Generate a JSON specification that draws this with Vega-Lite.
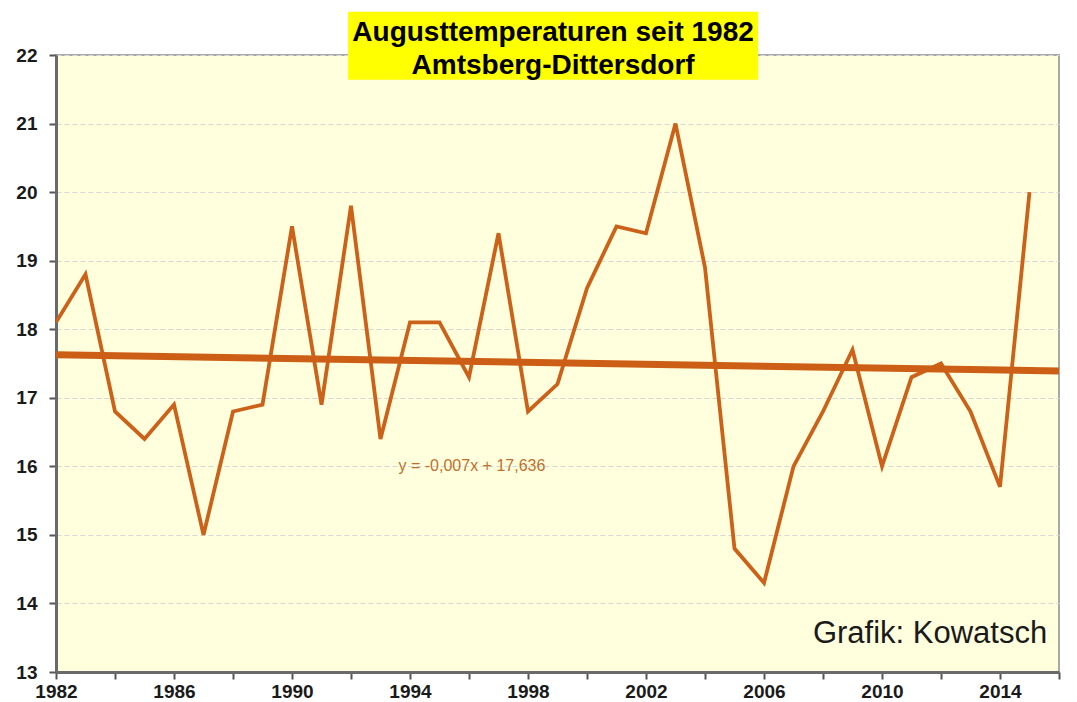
{
  "$schema": "https://vega.github.io/schema/vega-lite/v6.json",
  "width": 1003,
  "height": 617,
  "autosize": {"type": "none"},
  "padding": {"left": 56, "top": 55, "right": 18, "bottom": 30},
  "background": "#ffffff",
  "config": {
    "view": {"fill": "#ffffdd", "stroke": "#a8a8a8", "strokeWidth": 2},
    "font": "Liberation Sans"
  },
  "datasets": {
    "temps": [
      {"year": 1982, "temp": 18.1}, {"year": 1983, "temp": 18.8}, {"year": 1984, "temp": 16.8},
      {"year": 1985, "temp": 16.4}, {"year": 1986, "temp": 16.9}, {"year": 1987, "temp": 15.0},
      {"year": 1988, "temp": 16.8}, {"year": 1989, "temp": 16.9}, {"year": 1990, "temp": 19.5},
      {"year": 1991, "temp": 16.9}, {"year": 1992, "temp": 19.8}, {"year": 1993, "temp": 16.4},
      {"year": 1994, "temp": 18.1}, {"year": 1995, "temp": 18.1}, {"year": 1996, "temp": 17.3},
      {"year": 1997, "temp": 19.4}, {"year": 1998, "temp": 16.8}, {"year": 1999, "temp": 17.2},
      {"year": 2000, "temp": 18.6}, {"year": 2001, "temp": 19.5}, {"year": 2002, "temp": 19.4},
      {"year": 2003, "temp": 21.0}, {"year": 2004, "temp": 18.9}, {"year": 2005, "temp": 14.8},
      {"year": 2006, "temp": 14.3}, {"year": 2007, "temp": 16.0}, {"year": 2008, "temp": 16.8},
      {"year": 2009, "temp": 17.7}, {"year": 2010, "temp": 16.0}, {"year": 2011, "temp": 17.3},
      {"year": 2012, "temp": 17.5}, {"year": 2013, "temp": 16.8}, {"year": 2014, "temp": 15.7},
      {"year": 2015, "temp": 20.0}
    ],
    "trend": [
      {"year": 1982, "temp": 17.629},
      {"year": 2016, "temp": 17.391}
    ],
    "titlebox": [
      {"x1": 1991.9, "x2": 2005.8, "y1": 21.64, "y2": 22.63}
    ],
    "titletext": [
      {"year": 1998.85, "temp": 22.32, "label": "Augusttemperaturen seit 1982"},
      {"year": 1998.85, "temp": 21.84, "label": "Amtsberg-Dittersdorf"}
    ],
    "notes": [
      {"year": 1996.1, "temp": 16.0, "label": "y = -0,007x + 17,636"}
    ],
    "credit": [
      {"year": 2015.6, "temp": 13.43, "label": "Grafik: Kowatsch"}
    ]
  },
  "layer": [
    {
      "data": {"name": "temps"},
      "mark": {"type": "line", "color": "#cc6119", "strokeWidth": 3.8, "clip": true},
      "encoding": {
        "x": {
          "field": "year", "type": "quantitative",
          "scale": {"domain": [1982, 2016], "nice": false, "zero": false},
          "axis": {
            "title": null,
            "values": [1982, 1984, 1986, 1988, 1990, 1992, 1994, 1996, 1998, 2000, 2002, 2004, 2006, 2008, 2010, 2012, 2014, 2016],
            "labelExpr": "datum.value % 4 == 2 ? format(datum.value, 'd') : ''",
            "grid": false,
            "domainColor": "#6a6a6a", "domainWidth": 3,
            "tickColor": "#555555", "tickWidth": 2, "tickSize": 7,
            "labelFont": "Liberation Sans", "labelFontSize": 19, "labelFontWeight": "bold",
            "labelColor": "#1a1a1a", "labelPadding": 3, "labelFlush": false
          }
        },
        "y": {
          "field": "temp", "type": "quantitative",
          "scale": {"domain": [13, 22], "nice": false, "zero": false},
          "axis": {
            "title": null,
            "values": [13, 14, 15, 16, 17, 18, 19, 20, 21, 22],
            "format": "d",
            "grid": true, "gridColor": "#d6d6d6", "gridDash": [5, 3], "gridWidth": 1.2,
            "domainColor": "#6a6a6a", "domainWidth": 3,
            "tickColor": "#555555", "tickWidth": 2, "tickSize": 7,
            "labelFont": "Liberation Sans", "labelFontSize": 19, "labelFontWeight": "bold",
            "labelColor": "#1a1a1a", "labelPadding": 12
          }
        }
      }
    },
    {
      "data": {"name": "trend"},
      "mark": {"type": "line", "color": "#cc5f15", "strokeWidth": 7},
      "encoding": {
        "x": {"field": "year", "type": "quantitative"},
        "y": {"field": "temp", "type": "quantitative"}
      }
    },
    {
      "data": {"name": "notes"},
      "mark": {"type": "text", "color": "#c0702e", "fontSize": 16, "align": "center", "baseline": "middle", "font": "Liberation Sans"},
      "encoding": {
        "x": {"field": "year", "type": "quantitative"},
        "y": {"field": "temp", "type": "quantitative"},
        "text": {"field": "label"}
      }
    },
    {
      "data": {"name": "credit"},
      "mark": {"type": "text", "color": "#1a1a1a", "fontSize": 31, "align": "right", "baseline": "alphabetic", "font": "Liberation Sans"},
      "encoding": {
        "x": {"field": "year", "type": "quantitative"},
        "y": {"field": "temp", "type": "quantitative"},
        "text": {"field": "label"}
      }
    },
    {
      "data": {"name": "titlebox"},
      "mark": {"type": "rect", "color": "#ffff00", "clip": false},
      "encoding": {
        "x": {"field": "x1", "type": "quantitative"},
        "x2": {"field": "x2"},
        "y": {"field": "y1", "type": "quantitative"},
        "y2": {"field": "y2"}
      }
    },
    {
      "data": {"name": "titletext"},
      "mark": {"type": "text", "color": "#000000", "fontSize": 28, "fontWeight": "bold", "align": "center", "baseline": "middle", "font": "Liberation Sans", "clip": false},
      "encoding": {
        "x": {"field": "year", "type": "quantitative"},
        "y": {"field": "temp", "type": "quantitative"},
        "text": {"field": "label"}
      }
    }
  ]
}
